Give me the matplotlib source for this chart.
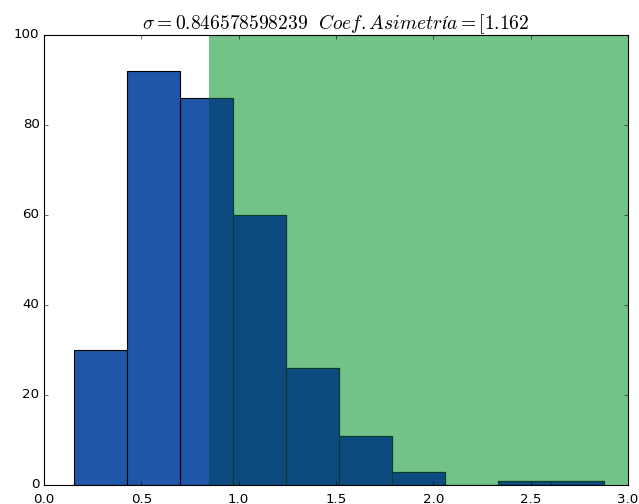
import matplotlib
matplotlib.use("Agg")
import matplotlib.pyplot as plt
import numpy as np

plt.style.use("classic")

# Data
bin_edges = [0.152, 0.4243, 0.6966, 0.9689, 1.2412, 1.5135, 1.7858, 2.0581, 2.3304, 2.6027, 2.875]
counts = [30, 92, 86, 60, 26, 11, 3, 0, 1, 1]
sigma = 0.846578598239
skew_text = "[1.162"
span_end = 3.0

edges = np.array(bin_edges)
centers = (edges[:-1] + edges[1:]) / 2

fig = plt.figure(figsize=(639 / 80, 504 / 80), dpi=80)
ax = fig.add_axes([44 / 639, 19 / 504, 584 / 639, 450 / 504])

span = ax.axvspan(sigma, span_end, facecolor="#73c388", edgecolor="none", zorder=0)

ax.hist(centers, bins=edges, weights=counts, color="#1f56a7", edgecolor="black",
        linewidth=1.0, zorder=1)
_, _, dark = ax.hist(centers, bins=edges, weights=counts, color="#0c4a80",
                     edgecolor="#0b3a26", linewidth=1.0, zorder=2)
for p in dark:
    p.set_clip_path(span)

ax.set_xlim(0, 3.0)
ax.set_ylim(0, 100)
ax.set_xticks(np.arange(0, 3.01, 0.5))
ax.set_yticks(np.arange(0, 101, 20))
ax.tick_params(axis="x", pad=7)

ax.set_title(r"$\sigma = " + str(sigma) + r"\ \ Coef.Asimetría = " + skew_text + "$",
             fontsize=17.5, y=1.0)

fig.savefig("out.png", dpi=80)
